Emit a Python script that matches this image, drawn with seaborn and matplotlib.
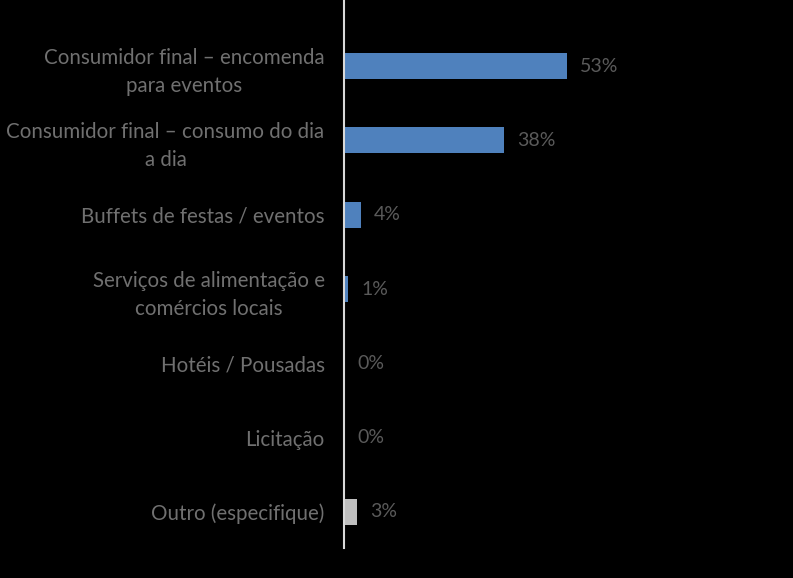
import matplotlib
matplotlib.use("Agg")
import matplotlib.pyplot as plt
import seaborn as sns
import pandas as pd

categories = [
    "Consumidor final – encomenda\npara eventos",
    "Consumidor final – consumo do dia\na dia",
    "Buffets de festas / eventos",
    "Serviços de alimentação e\ncomércios locais",
    "Hotéis / Pousadas",
    "Licitação",
    "Outro (especifique)",
]
values = [53, 38, 4, 1, 0, 0, 3]
value_labels = ["53%", "38%", "4%", "1%", "0%", "0%", "3%"]
colors = ["#4F81BD"] * 6 + ["#BFBFBF"]

sns.set_theme(style="white")
plt.rcParams["font.family"] = ["Lato", "DejaVu Sans"]

df = pd.DataFrame({"cat": categories, "val": values})

fig = plt.figure(figsize=(7.93, 5.78), dpi=100, facecolor="black")
ax = fig.add_axes([344 / 793, 30 / 578, 260 / 793, 548 / 578])
ax.set_facecolor("black")

sns.barplot(data=df, x="val", y="cat", hue="cat", palette=colors, legend=False,
            width=0.35, ax=ax, orient="h", saturation=1, linewidth=0)

ax.set_xlim(0, 260 / 4.21)
ax.set_ylim(6.485, -0.89)
ax.set_xlabel("")
ax.set_ylabel("")
ax.set_xticks([])
for s in ["top", "right", "bottom"]:
    ax.spines[s].set_visible(False)
ax.spines["left"].set_color("#D9D9D9")
ax.spines["left"].set_linewidth(1.5)

ax.tick_params(axis="y", length=0, pad=14, labelsize=14.8, labelcolor="#707070")
for lbl in ax.get_yticklabels():
    lbl.set_multialignment("center")
    lbl.set_linespacing(1.5)

for i, (v, t) in enumerate(zip(values, value_labels)):
    ax.annotate(t, xy=(v, i), xytext=(9.5, 0), textcoords="offset points",
                va="center", ha="left", fontsize=14, color="#5A5A5A")

fig.savefig("out.png", dpi=100, facecolor="black")
